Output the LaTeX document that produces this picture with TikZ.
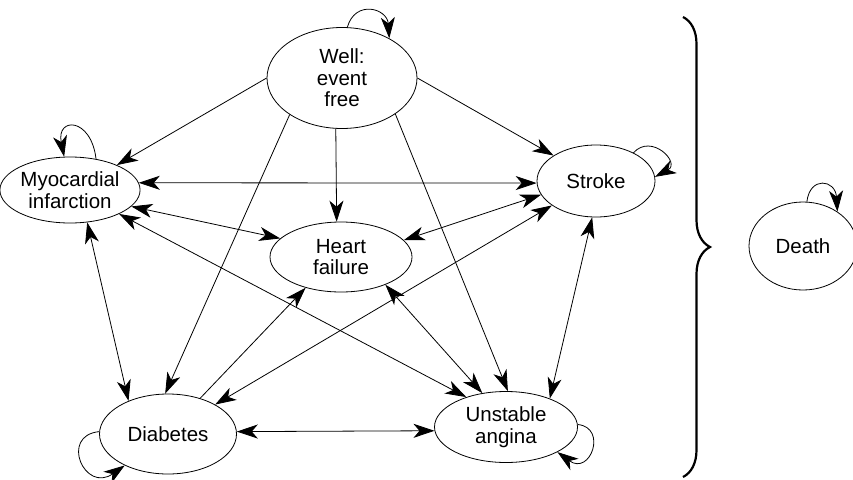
\documentclass[tikz,border=0pt]{standalone}
\usepackage{fontspec}
\setmainfont{Liberation Sans}
\usetikzlibrary{shapes.geometric, arrows.meta, decorations.pathreplacing}
\tikzset{
  state/.style={ellipse, draw, line width=0.8pt, align=center, inner sep=0pt, font=\fontsize{20.5}{21.5}\selectfont},
  arrow/.style={-{Stealth[length=21pt, width=14pt, inset=6pt]}, line width=0.8pt},
  twoway/.style={{Stealth[length=21pt, width=14pt, inset=6pt]}-{Stealth[length=21pt, width=14pt, inset=6pt]}, line width=0.8pt},
  bracket/.style={decorate, decoration={brace, amplitude=27pt}, line width=2.2pt},
}
\begin{document}
\begin{tikzpicture}[x=1pt, y=-1pt]
  \useasboundingbox (0,0) rectangle (853,479);
  % states
  \node[state, minimum width=150pt, minimum height=101pt] (well) at (342,78) {Well:\\event\\free};
  \node[state, minimum width=125pt, minimum height=66pt] (mi) at (70,190) {Myocardial\\infarction};
  \node[state, minimum width=118pt, minimum height=72pt] (stroke) at (596,181) {Stroke};
  \node[state, minimum width=142pt, minimum height=70pt] (hf) at (341,257) {Heart\\failure};
  \node[state, minimum width=137pt, minimum height=80pt] (diab) at (168,434) {Diabetes};
  \node[state, minimum width=143pt, minimum height=71pt] (ua) at (506,427) {Unstable\\angina};
  \node[state, minimum width=108pt, minimum height=88pt] (death) at (803,246) {Death};
  % from well
  \draw[arrow] (well.180) -- (mi.28);
  \draw[arrow] (well.0) -- (stroke.149);
  \draw[arrow] (well.263) -- (hf.97);
  \draw[arrow] (well.215) -- (diab.94);
  \draw[arrow] (well.326) -- (ua.87);
  % between events
  \draw[twoway] (mi.6) -- (stroke.182);
  \draw[twoway] (mi.345) -- (hf.163);
  \draw[twoway] (mi.298) -- (diab.140);
  \draw[twoway] (mi.334) -- (ua.143);
  \draw[twoway] (stroke.194) -- (hf.15);
  \draw[twoway] (stroke.209) -- (diab.32);
  \draw[twoway] (stroke.264) -- (ua.33);
  \draw[twoway] (hf.328) -- (ua.125);
  \draw[arrow] (diab.48) -- (hf.221);
  \draw[twoway] (diab.2) -- (ua.183);
  % stay in state
  \draw[arrow] (well.84) .. controls +(8,-28) and +(-2,-30) .. (well.40);
  \draw[arrow] (mi.50) .. controls +(-5,-42) and +(-8,-40) .. (mi.100);
  \draw[arrow] (stroke.37) .. controls +(18,-20) and +(26,-14) .. (stroke.4);
  \draw[arrow] (diab.178) .. controls +(-40,4) and +(-40,28) .. (diab.216);
  \draw[arrow] (ua.2) .. controls +(30,3) and +(33,24) .. (ua.334);
  \draw[arrow] (death.85) .. controls +(3,-26) and +(-2,-32) .. (death.45);
  % brace
  \draw[bracket] (683,17) -- (683,477);
\end{tikzpicture}
\end{document}
